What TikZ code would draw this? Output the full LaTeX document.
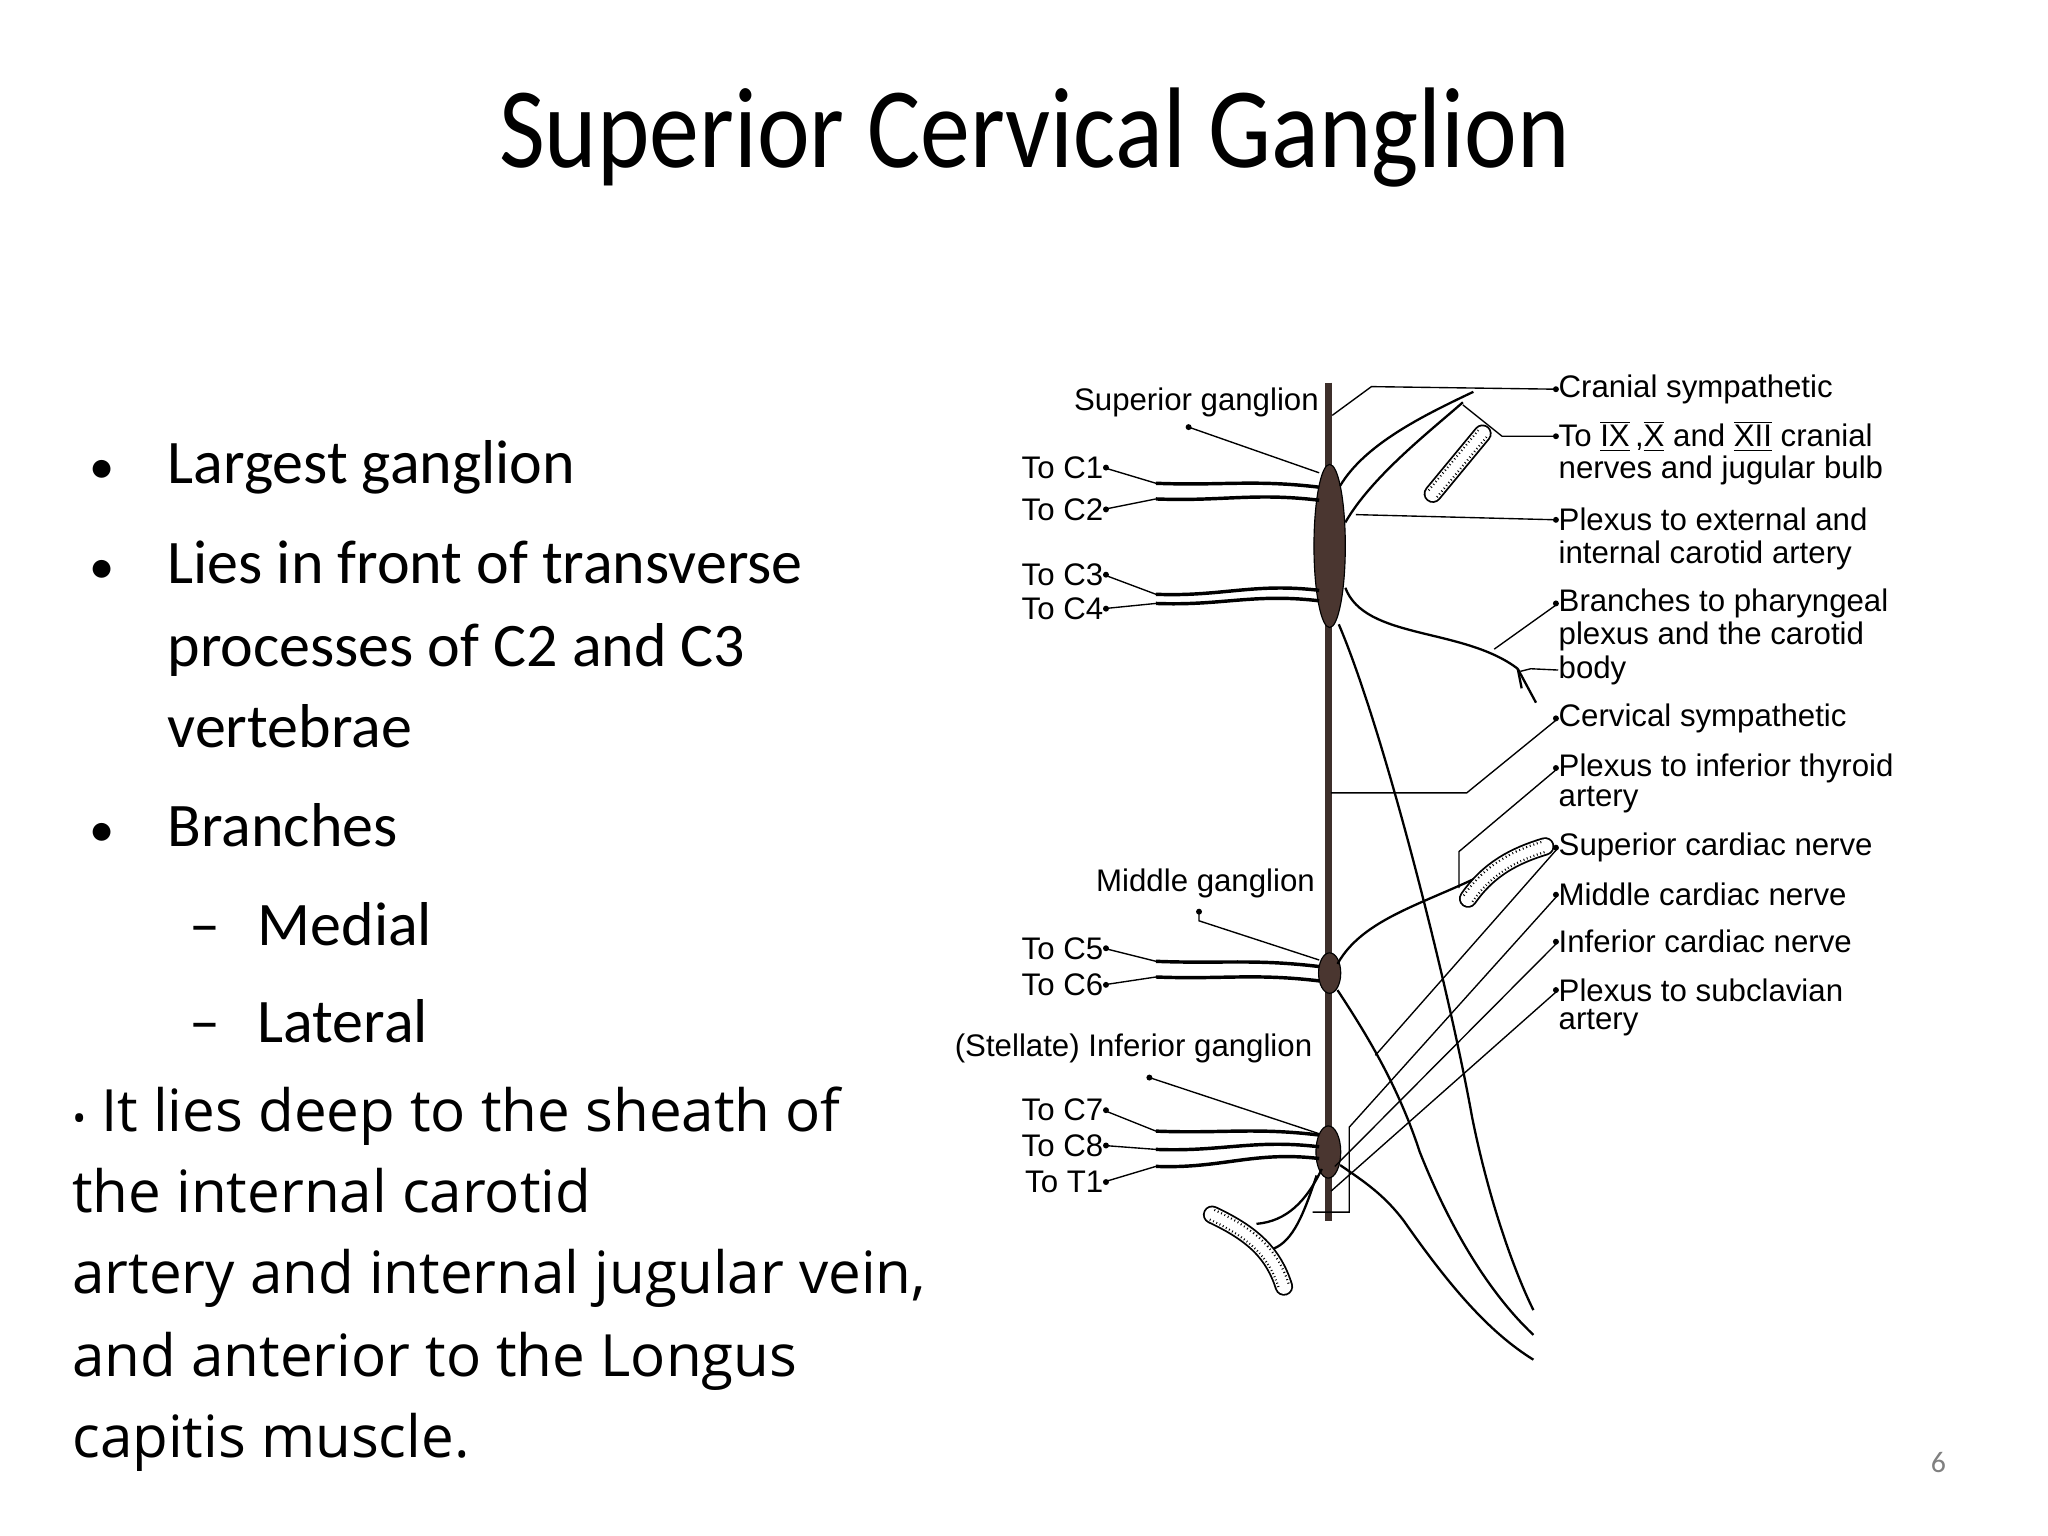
\documentclass[tikz,border=0pt]{standalone}
\usepackage{fontspec}
\setmainfont{Carlito}
\newfontfamily\lfam{Liberation Sans}
\newfontfamily\ofam{Open Sans}
\newcommand\rnum[1]{\ensuremath{\overline{\underline{\hbox{#1}}}}}
\usetikzlibrary{shapes.geometric}
\begin{document}
\begin{tikzpicture}[x=0.02cm,y=-0.02cm,
  lbl/.style={font=\lfam\fontsize{13.6}{15}\selectfont,inner sep=0pt},
  rl/.style={lbl,anchor=west},
  ll/.style={lbl,anchor=east},
  body/.style={font=\fontsize{27}{30}\selectfont,inner sep=0pt,anchor=base west},
  para/.style={font=\ofam\fontsize{25.4}{28}\selectfont,inner sep=0pt,anchor=base west},
  leader/.style={line width=0.6pt},
  root/.style={line width=1.5pt},
  nerve/.style={line width=1pt},
  gang/.style={ellipse,fill=gcol,draw=black,line width=0.5pt,inner sep=0pt}]
\definecolor{gcol}{HTML}{4A3630}
\definecolor{tcol}{HTML}{3D2F2B}
\path[use as bounding box,fill=white] (0,0) rectangle (1568,1176);
% title and text
\node[font=\fontsize{50}{56}\selectfont,inner sep=0pt,anchor=base] (title) at (792,128) {\scalebox{0.87}[1]{Superior Cervical Ganglion}};
\node[body] (b1) at (68,370) {\fontsize{22}{24}\selectfont\textbullet};
\node[body] (t1) at (128,370) {Largest ganglion};
\node[body] (b2) at (68,447) {\fontsize{22}{24}\selectfont\textbullet};
\node[body] (t2) at (128,447) {Lies in front of transverse};
\node[body] (t3) at (128,510) {processes of C2 and C3};
\node[body] (t4) at (128,572) {vertebrae};
\node[body] (b3) at (68,648) {\fontsize{22}{24}\selectfont\textbullet};
\node[body] (t5) at (128,648) {Branches};
\node[body] (d1) at (145,724) {–};
\node[body] (t6) at (197,724) {Medial};
\node[body] (d2) at (145,798) {–};
\node[body] (t7) at (197,798) {Lateral};
\node[para] (p1) at (55,866) {{\fontsize{16}{18}\selectfont\textbullet} It lies deep to the sheath of};
\node[para] (p2) at (55,928) {the internal carotid};
\node[para] (p3) at (55,990) {artery and internal jugular vein,};
\node[para] (p4) at (55,1054) {and anterior to the Longus};
\node[para] (p5) at (55,1116) {capitis muscle.};
\node[font=\fontsize{13}{15}\selectfont,text=gray,inner sep=0pt] (pg) at (1484,1120) {6};
% trunk and ganglia
\draw[tcol,line width=3pt] (1017,293) -- (1017,935);
\node[gang,minimum width=0.48cm,minimum height=2.5cm] (sg) at (1018,418) {};
\node[gang,minimum width=0.34cm,minimum height=0.62cm] (mg) at (1018,745) {};
\node[gang,minimum width=0.38cm,minimum height=0.8cm] (ig) at (1017,882) {};
% long nerves
\draw[nerve] (1025,478) .. controls (1060,560) and (1110,760) .. (1127,855) .. controls (1140,920) and (1160,975) .. (1174,1003);
\draw[nerve] (1024,758) .. controls (1045,790) and (1070,830) .. (1087,882) .. controls (1110,940) and (1140,990) .. (1174,1022);
\draw[nerve] (1026,892) .. controls (1045,905) and (1060,915) .. (1075,935) .. controls (1110,985) and (1140,1020) .. (1174,1041);
% upper branches
\draw[nerve] (1026,372) .. controls (1045,340) and (1090,318) .. (1128,300);
\draw[nerve] (1030,400) .. controls (1050,365) and (1095,330) .. (1120,308);
\draw[nerve] (1030,450) .. controls (1045,490) and (1120,480) .. (1162,512);
\draw[nerve] (1162,512) -- (1165,527);
\draw[nerve] (1162,512) -- (1176,538);
% middle ganglion to thyroid artery
\draw[nerve] (1024,738) .. controls (1045,700) and (1100,690) .. (1150,662);
% vessels
\foreach \p in {{(1097,378) -- (1135,332)},{(1124,688) .. controls (1140,665) and (1160,655) .. (1183,648)},{(928,930) .. controls (960,945) and (975,960) .. (983,985)}}{
  \draw[line width=8pt,line cap=round] \p;
  \draw[white,line width=6.4pt,line cap=round] \p;
  \draw[line width=5.6pt,dash pattern=on 0.4pt off 1.2pt] \p;
  \draw[white,line width=3.6pt,line cap=round] \p;
}
% stellate to subclavian artery
\draw[nerve] (1012,895) .. controls (1000,920) and (985,935) .. (962,937);
\draw[nerve] (1008,900) .. controls (998,930) and (990,950) .. (975,956);
% right labels
\node[rl] (cs) at (1193,298) {Cranial sympathetic};
\node[rl] (ix1) at (1193,334) {To \rnum{IX}\,,\rnum{X} and \rnum{XII} cranial};
\node[rl] (ix2) at (1193,360) {nerves and jugular bulb};
\node[rl] (pe1) at (1193,398) {Plexus to external and};
\node[rl] (pe2) at (1193,425) {internal carotid artery};
\node[rl] (bp1) at (1193,462) {Branches to pharyngeal};
\node[rl] (bp2) at (1193,487) {plexus and the carotid};
\node[rl] (bp3) at (1193,513) {body};
\node[rl] (cv) at (1193,550) {Cervical sympathetic};
\node[rl] (it1) at (1193,588) {Plexus to inferior thyroid};
\node[rl] (it2) at (1193,612) {artery};
\node[rl] (sc) at (1193,649) {Superior cardiac nerve};
\node[rl] (mc) at (1193,685) {Middle cardiac nerve};
\node[rl] (ic) at (1193,721) {Inferior cardiac nerve};
\node[rl] (ps1) at (1193,758) {Plexus to subclavian};
\node[rl] (ps2) at (1193,783) {artery};
% right leaders
\draw[leader] (1020,318) -- (1050,296) -- (cs.west);
\draw[leader] (1120,310) -- (1150,334) -- (ix1.west);
\draw[leader] (1038,394) -- (pe1.west);
\draw[leader] (1144,497) -- (bp1.west);
\draw[leader] (bp3.west) -- (1172,512) -- (1164,514);
\draw[leader] (1019,607) -- (1123,607) -- (cv.west);
\draw[leader] (1117,680) -- (1117,652) -- (it1.west);
\draw[leader] (sc.west) -- (1053,808);
\draw[leader] (mc.west) -- (1033,863) -- (1033,928) -- (1005,928);
\draw[leader] (ic.west) -- (1022,893);
\draw[leader] (ps1.west) -- (1019,912);
\foreach \n in {cs,ix1,pe1,bp1,cv,it1,sc,mc,ic,ps1}{\fill ([xshift=-1pt]\n.west) circle (1.3pt);}
% left labels
\node[ll] (sgl) at (1010,308) {Superior ganglion};
\node[ll] (mgl) at (1007,676) {Middle ganglion};
\node[ll] (igl) at (1005,803) {(Stellate) Inferior ganglion};
\draw[leader] (910,327) -- (1010,362); \fill (910,327) circle (1.3pt);
\draw[leader] (918,698) -- (918,705) -- (1010,735); \fill (918,698) circle (1.3pt);
\draw[leader] (880,825) -- (1010,868); \fill (880,825) circle (1.3pt);
\foreach \nm/\txt/\y/\ya/\yb in {c1/To C1/358/370/373, c2/To C2/390/382/383, c3/To C3/440/455/452, c4/To C4/466/462/460, c5/To C5/726/736/740, c6/To C6/754/748/751, c7/To C7/850/866/869, c8/To C8/877/880/878, t1/To T1/905/893/887}{
  \node[ll] (\nm) at (845,\y) {\txt};
  \draw[leader] (\nm.east) -- (885,\ya);
  \fill ([xshift=1pt]\nm.east) circle (1.3pt);
  \draw[root] (885,\ya) .. controls (935,\ya+2) and (960,\yb-6) .. (1010,\yb);
}
\end{tikzpicture}
\end{document}
